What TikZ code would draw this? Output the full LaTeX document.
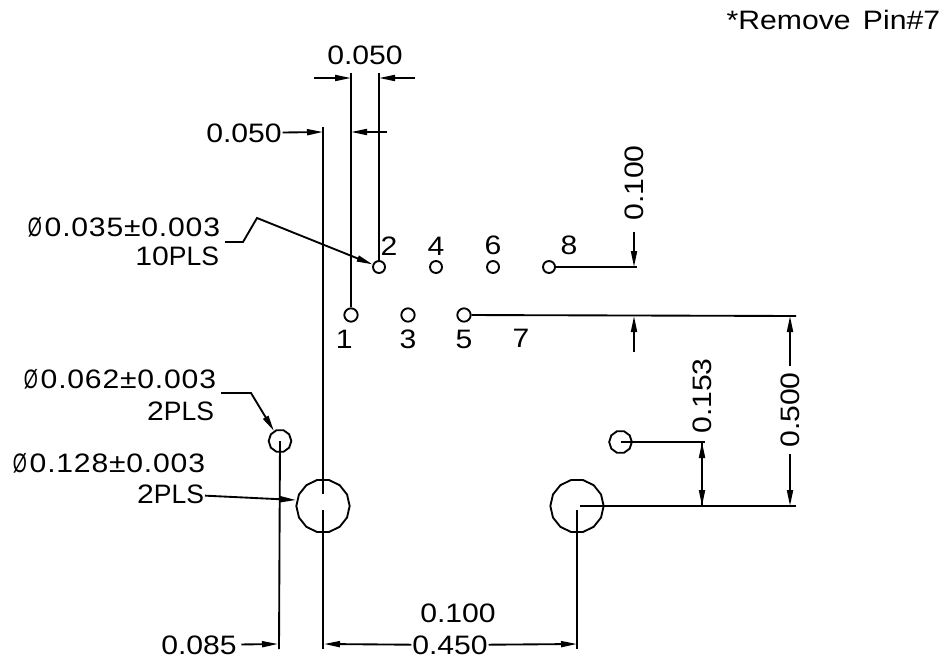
\documentclass[tikz,border=0pt]{standalone}
\usepackage{fontspec}
\usepackage{graphicx}
\setmainfont[FakeStretch=1.13]{Liberation Sans}
\usetikzlibrary{positioning}
\usetikzlibrary{shapes.geometric}
\usetikzlibrary{arrows.meta}

\newcommand{\dia}{\scalebox{0.6}[1]{Ø}\hspace{2pt}}
\newcommand{\pls}{\scalebox{0.88}[1]{PLS}}

\tikzset{
  txt/.style={inner sep=0pt, font=\fontsize{20}{24}\selectfont},
  tol/.style={txt, anchor=east, font=\fontsize{20}{24}\selectfont\addfontfeature{LetterSpace=3}},
  pin/.style={draw, circle, inner sep=0pt, minimum size=9pt},
  hole/.style={draw, regular polygon, regular polygon sides=10, inner sep=0pt, minimum size=17pt},
  bighole/.style={draw, regular polygon, regular polygon sides=14, inner sep=0pt, minimum size=40pt},
  dim/.style={-{Triangle[length=12pt,width=4.5pt]}}
}

\begin{document}
\begin{tikzpicture}[x=0.75pt, y=-0.75pt, line width=1.4pt]
  \useasboundingbox (0,0) rectangle (944,659);

  % Pines de arriba
  \node[pin] (pin2) at (379,267) {};
  \node[pin] (pin4) at (436,267) {};
  \node[pin] (pin6) at (493,267) {};
  \node[pin] (pin8) at (549,267) {};
  \node[txt, above=3pt of pin2, xshift=7.5pt] (num2) {2};
  \node[txt, above=3pt of pin4] (num4) {4};
  \node[txt, above=3pt of pin6] (num6) {6};
  \node[txt, above=3pt of pin8, xshift=15pt] (num8) {8};

  % Pines de abajo
  \node[pin, minimum size=10pt] (pin1) at (351,315) {};
  \node[pin, minimum size=10pt] (pin3) at (408,315) {};
  \node[pin, minimum size=10pt] (pin5) at (464,315) {};
  \node[txt, below=5pt of pin1, xshift=-5pt] (num1) {1};
  \node[txt, below=5pt of pin3] (num3) {3};
  \node[txt, below=5pt of pin5] (num5) {5};
  \node[txt] (num7) at (521,338) {7};

  % Agujeros grandes
  \node[hole] (postL) at (280,441) {};
  \node[hole] (postR) at (620.5,442) {};
  \node[bighole] (mountL) at (323,506) {};
  \node[bighole] (mountR) at (577,506) {};

  % Textos
  \node[txt, anchor=north east] (note) at (941,9) {*Remove\hspace{3pt} Pin\#7};
  \node[txt] (pitchTop) at (365,55) {0.050};
  \node[txt] (pitchLeft) at (244,133) {0.050};
  \node[tol] (diaPin) at (221,227) {\dia0.035±0.003};
  \node[txt, anchor=east] (cntPin) at (220,256) {10\pls};
  \node[tol] (diaPost) at (217,379) {\dia0.062±0.003};
  \node[txt, anchor=east] (cntPost) at (215,411) {2\pls};
  \node[tol] (diaMount) at (206,463) {\dia0.128±0.003};
  \node[txt, anchor=east] (cntMount) at (205,494) {2\pls};
  \node[txt, rotate=90] (rowGap) at (634,183) {0.100};
  \node[txt, rotate=90] (postGap) at (702,396) {0.153};
  \node[txt, rotate=90, outer sep=4.5pt] (height) at (790,410) {0.500};
  \node[txt, outer sep=3.5pt] (offset) at (199,645) {0.085};
  \node[txt] (extra) at (458,613) {0.100};
  \node[txt] (width) at (450,645) {0.450};

  % Puntos libres
  \coordinate (topA) at (351,73);
  \coordinate (topB) at (379,73);
  \coordinate (topC) at (323,127);
  \coordinate (footA) at (279,649);
  \coordinate (footB) at (323,649);
  \coordinate (footC) at (577,649);
  \coordinate (gapA) at (323,494);
  \coordinate (gapB) at (323,510);
  \coordinate (gapC) at (577,510);
  \coordinate (arrowA1) at (314,78);
  \coordinate (arrowA2) at (351,78);
  \coordinate (arrowB1) at (415,78);
  \coordinate (arrowB2) at (379,78);
  \coordinate (arrowC) at (323,132);
  \coordinate (arrowD1) at (387,132);
  \coordinate (arrowD2) at (351,132);
  \coordinate (bendA1) at (225,242);
  \coordinate (bendA2) at (243,242);
  \coordinate (bendA3) at (257,218);
  \coordinate (bendB1) at (221,393);
  \coordinate (bendB2) at (251,393);
  \coordinate (rowEnd) at (637,267);
  \coordinate (rowStart) at (634,232);
  \coordinate (rowTip) at (634,267);
  \coordinate (rowLow) at (634,316);
  \coordinate (rowLowEnd) at (634,352);
  \coordinate (lineEnd) at (796,316);
  \coordinate (heightTip) at (790,316);
  \coordinate (heightLow) at (790,506);
  \coordinate (postEnd) at (705,442);
  \coordinate (postTip) at (702,442);
  \coordinate (baseTip) at (702,506);
  \coordinate (baseStart) at (580,506);
  \coordinate (baseEnd) at (796,506);
  \coordinate (mountTip) at (296,500);
  \coordinate (offsetTip) at (278,644);
  \coordinate (widthL) at (324,644);
  \coordinate (widthR) at (577,644);

  % Lineas de referencia
  \draw (topA) -- (pin1);
  \draw (topB) -- (pin2);
  \draw (topC) -- (gapA);
  \draw (gapB) -- (footB);
  \draw (gapC) -- (footC);
  \draw (postL.center) -- (footA);
  \draw (pin8) -- (rowEnd);
  \draw (pin5) -- (lineEnd);
  \draw (postR.center) -- (postEnd);
  \draw (baseStart) -- (baseEnd);

  % Cotas
  \draw[dim] (arrowA1) -- (arrowA2);
  \draw[dim] (arrowB1) -- (arrowB2);
  \draw[dim] (pitchLeft) -- (arrowC);
  \draw[dim] (arrowD1) -- (arrowD2);
  \draw[dim] (rowStart) -- (rowTip);
  \draw[dim] (rowLowEnd) -- (rowLow);
  \draw[dim] (height) -- (heightTip);
  \draw[dim] (height) -- (heightLow);
  \draw[dim] (baseTip) -- (postTip);
  \draw[dim] (postTip) -- (baseTip);
  \draw[dim] (offset) -- (offsetTip);
  \draw[dim] (width) -- (widthL);
  \draw[dim] (width) -- (widthR);

  % Flechas de los textos
  \draw[dim] (bendA1) -- (bendA2) -- (bendA3) -- (pin2);
  \draw[dim] (bendB1) -- (bendB2) -- (postL);
  \draw[dim] (cntMount) -- (mountTip);
\end{tikzpicture}
\end{document}
